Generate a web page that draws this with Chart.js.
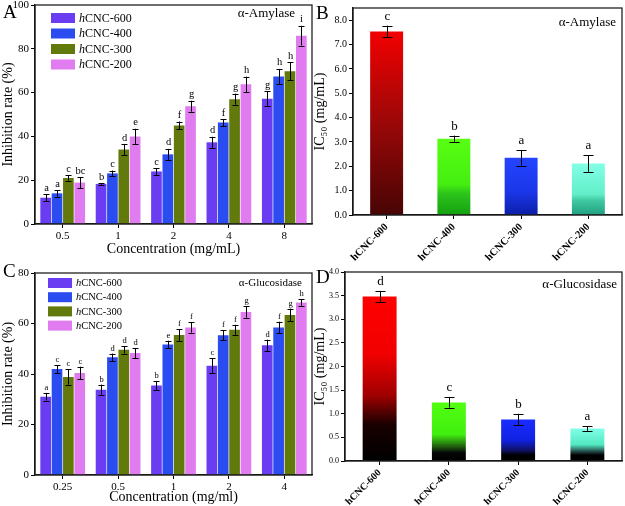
<!DOCTYPE html>
<html>
<head>
<meta charset="utf-8">
<script src="https://cdn.jsdelivr.net/npm/chart.js@4.4.1/dist/chart.umd.min.js"></script>
<style>
  body { margin: 0; background: #fff; }
  #wrap { position: relative; width: 625px; height: 506px; font-family: "Liberation Serif", serif; overflow: hidden; }
  canvas { position: absolute; }
  .lab { position: absolute; font-size: 19px; line-height: 1; color: #000; }
</style>
</head>
<body>
<div id="wrap">
  <canvas id="cC" width="320" height="248" style="left:0;top:258px"></canvas>
  <canvas id="cD" width="313" height="248" style="left:312px;top:258px"></canvas>
  <canvas id="cA" width="320" height="264" style="left:0;top:-6px"></canvas>
  <canvas id="cB" width="313" height="270" style="left:312px;top:0"></canvas>
  <div class="lab" style="left:3px;top:2px">A</div>
  <div class="lab" style="left:316px;top:3px">B</div>
  <div class="lab" style="left:3px;top:261px">C</div>
  <div class="lab" style="left:316px;top:267px">D</div>
</div>
<script>
// ---- data ----
const samples = ['hCNC-600', 'hCNC-400', 'hCNC-300', 'hCNC-200'];

// A: alpha-amylase inhibition (%)
const amyConc = ['0.5', '1', '2', '4', '8'];
const amy600 = [12.0, 18.3, 24.0, 37.3, 57.2];
const amy400 = [14.0, 23.1, 31.8, 46.3, 67.3];
const amy300 = [21.0, 34.0, 45.0, 57.0, 69.8];
const amy200 = [18.9, 40.0, 53.8, 63.8, 86.0];
const amyErr600 = [1.5, 0.4, 1.5, 2.5, 3.5];
const amyErr400 = [1.5, 1.3, 2.5, 1.6, 3.5];
const amyErr300 = [1.2, 2.5, 1.8, 2.5, 4.0];
const amyErr200 = [2.5, 3.5, 2.5, 3.5, 4.5];
const amySig600 = ['a', 'b', 'c', 'd', 'g'];
const amySig400 = ['a', 'c', 'd', 'f', 'h'];
const amySig300 = ['c', 'd', 'f', 'g', 'h'];
const amySig200 = ['bc', 'e', 'g', 'h', 'i'];

// B: alpha-amylase IC50 (mg/mL)
const amyIC50 = [7.53, 3.13, 2.35, 2.11];
const amyIC50Err = [0.24, 0.13, 0.32, 0.34];
const amyIC50Sig = ['c', 'b', 'a', 'a'];

// C: alpha-glucosidase inhibition (%)
const gluConc = ['0.25', '0.5', '1', '2', '4'];
const glu600 = [31.0, 33.8, 35.4, 43.3, 51.4];
const glu400 = [42.0, 46.6, 51.7, 55.3, 58.4];
const glu300 = [38.8, 49.6, 55.4, 57.5, 63.4];
const glu200 = [40.4, 48.3, 58.4, 64.6, 68.3];
const gluErr600 = [1.5, 2.0, 1.8, 3.0, 2.2];
const gluErr400 = [1.5, 1.5, 1.5, 2.0, 2.3];
const gluErr300 = [3.0, 1.5, 2.3, 2.0, 2.5];
const gluErr200 = [2.5, 2.0, 2.0, 2.3, 1.3];
const gluSig600 = ['a', 'b', 'b', 'c', 'd'];
const gluSig400 = ['c', 'd', 'e', 'f', 'f'];
const gluSig300 = ['c', 'd', 'f', 'f', 'g'];
const gluSig200 = ['c', 'd', 'f', 'g', 'h'];

// D: alpha-glucosidase IC50 (mg/mL)
const gluIC50 = [3.48, 1.24, 0.88, 0.69];
const gluIC50Err = [0.12, 0.11, 0.12, 0.05];
const gluIC50Sig = ['d', 'c', 'b', 'a'];

// ---- styles ----
const FONT = '"Liberation Serif", "Times New Roman", serif';
const barColors = ['#6a3cf2', '#2a4cf0', '#62790c', '#e07cf0'];

const gradB = [
  [[0, '#f20000'], [0.5, '#9a0808'], [1, '#480404']],
  [[0, '#58ff12'], [0.6, '#44ee10'], [0.72, '#2cc41c'], [1, '#14a010']],
  [[0, '#2444ff'], [0.6, '#1a36e8'], [1, '#0c1ea8']],
  [[0, '#82ffe6'], [0.6, '#62eec8'], [0.72, '#40c8a0'], [1, '#20a080']]
];
const gradD = [
  [[0, '#ff0000'], [0.35, '#f00000'], [0.6, '#a00000'], [0.78, '#180000'], [1, '#000000']],
  [[0, '#52ff10'], [0.55, '#40ee10'], [0.75, '#206010'], [0.86, '#050505'], [1, '#000000']],
  [[0, '#1a2cff'], [0.5, '#1022e0'], [0.75, '#101060'], [0.86, '#000000'], [1, '#000000']],
  [[0, '#82ffe8'], [0.5, '#52e8c0'], [0.72, '#204040'], [0.82, '#000000'], [1, '#000000']]
];

// ---- plugins ----
const errBars = {
  id: 'errBars',
  afterDatasetsDraw(chart, args, o) {
    const ctx = chart.ctx, y = chart.scales.y;
    ctx.save();
    ctx.strokeStyle = '#000';
    ctx.lineWidth = 1;
    ctx.fillStyle = '#000';
    ctx.font = o.fontSize + 'px ' + FONT;
    ctx.textAlign = 'center';
    ctx.textBaseline = 'bottom';
    chart.data.datasets.forEach((ds, i) => {
      chart.getDatasetMeta(i).data.forEach((bar, j) => {
        const v = ds.data[j], e = o.err[i][j];
        const yt = y.getPixelForValue(v + e), yb = y.getPixelForValue(v - e);
        const x = Math.round(bar.x) + 0.5;
        ctx.beginPath();
        ctx.moveTo(x, yt); ctx.lineTo(x, yb);
        ctx.moveTo(x - o.cap, Math.round(yt) + 0.5); ctx.lineTo(x + o.cap, Math.round(yt) + 0.5);
        ctx.moveTo(x - o.cap, Math.round(yb) + 0.5); ctx.lineTo(x + o.cap, Math.round(yb) + 0.5);
        ctx.stroke();
        ctx.fillText(o.sig[i][j], x, yt - o.gap);
      });
    });
    ctx.restore();
  }
};

const frame = {
  id: 'frame',
  afterDraw(chart, args, o) {
    const a = chart.chartArea, ctx = chart.ctx;
    ctx.save();
    ctx.strokeStyle = '#222';
    ctx.lineWidth = 1.3;
    ctx.strokeRect(a.left, a.top, a.right - a.left, a.bottom - a.top);
    ctx.fillStyle = '#000';
    ctx.font = o.fontSize + 'px ' + FONT;
    ctx.textAlign = 'right';
    ctx.textBaseline = 'middle';
    ctx.fillText(o.note, a.right - o.dx, a.top + o.dy);
    ctx.restore();
  }
};

const boxLegend = {
  id: 'boxLegend',
  afterDraw(chart, args, o) {
    const ctx = chart.ctx;
    ctx.save();
    ctx.textBaseline = 'middle';
    chart.data.datasets.forEach((ds, i) => {
      const top = o.y + i * o.dy;
      ctx.fillStyle = barColors[i];
      ctx.fillRect(o.x, top, o.w, o.h);
      const ty = top + o.h / 2 + 0.5;
      let tx = o.x + o.w + 4;
      ctx.fillStyle = '#000';
      ctx.font = 'italic ' + o.fontSize + 'px ' + FONT;
      ctx.fillText(ds.label.charAt(0), tx, ty);
      tx += ctx.measureText(ds.label.charAt(0)).width;
      ctx.font = o.fontSize + 'px ' + FONT;
      ctx.fillText(ds.label.slice(1), tx, ty);
    });
    ctx.restore();
  }
};

// ---- builders ----
function axisX(title, tickSize, titleSize, height, rotate, bold) {
  return {
    grid: { display: true, drawOnChartArea: false, offset: false, color: '#000', tickLength: 4, tickWidth: 1 },
    border: { color: '#000', width: 1.3 },
    ticks: {
      color: '#000', padding: 2,
      font: { family: FONT, size: tickSize, weight: bold ? 'bold' : 'normal' },
      minRotation: rotate, maxRotation: rotate, autoSkip: false
    },
    title: { display: !!title, text: title, color: '#000', padding: 0, font: { family: FONT, size: titleSize } },
    afterFit: s => { s.height = height; }
  };
}

function axisY(title, max, step, tickSize, titleSize, width, decimals, lastTick) {
  return {
    min: 0, max: max,
    grid: { display: true, drawOnChartArea: false, color: '#000', tickLength: 4, tickWidth: 1 },
    border: { color: '#000', width: 1.3 },
    ticks: {
      stepSize: step, color: '#000', padding: 2,
      font: { family: FONT, size: tickSize },
      callback: v => v.toFixed(decimals)
    },
    afterBuildTicks: s => { s.ticks = s.ticks.filter(t => t.value <= lastTick + 1e-9); },
    title: { display: true, text: title, color: '#000', padding: 0, font: { family: FONT, size: titleSize } },
    afterFit: s => { s.width = width; }
  };
}

function groupedChart(id, labels, series, errs, sigs, cfg) {
  new Chart(document.getElementById(id), {
    type: 'bar',
    data: {
      labels: labels,
      datasets: series.map((d, i) => ({
        label: samples[i], data: d, backgroundColor: barColors[i],
        borderWidth: 0, barPercentage: 0.94, categoryPercentage: 0.82
      }))
    },
    options: {
      responsive: false, animation: false,
      layout: { padding: cfg.padding },
      plugins: {
        legend: { display: false }, tooltip: { enabled: false },
        errBars: { err: errs, sig: sigs, cap: 3, gap: 1, fontSize: cfg.sigSize },
        frame: { note: cfg.note, dx: cfg.noteDx, dy: cfg.noteDy, fontSize: cfg.noteSize },
        boxLegend: cfg.legend
      },
      scales: {
        x: axisX(cfg.xTitle, cfg.xTick, cfg.xTitleSize, cfg.xHeight, 0, false),
        y: axisY('Inhibition rate (%)', cfg.yMax, cfg.yStep, cfg.yTick, 14, 35, 0, cfg.yMax)
      }
    },
    plugins: [errBars, frame, boxLegend]
  });
}

function gradient(stops) {
  return ctx => {
    const c = ctx.chart, y = c.scales.y;
    if (!c.chartArea || !y || ctx.raw === undefined) return stops[0][1];
    const g = c.ctx.createLinearGradient(0, y.getPixelForValue(ctx.raw), 0, y.getPixelForValue(0));
    stops.forEach(s => g.addColorStop(s[0], s[1]));
    return g;
  };
}

function ic50Chart(id, values, errs, sigs, grads, cfg) {
  new Chart(document.getElementById(id), {
    type: 'bar',
    data: {
      labels: samples,
      datasets: [{
        label: 'IC50', data: values,
        backgroundColor: ctx => gradient(grads[ctx.dataIndex])(ctx),
        borderWidth: 0, barPercentage: 0.49, categoryPercentage: 1
      }]
    },
    options: {
      responsive: false, animation: false,
      layout: { padding: cfg.padding },
      plugins: {
        legend: { display: false }, tooltip: { enabled: false },
        errBars: { err: [errs], sig: [sigs], cap: 5, gap: 3, fontSize: 13 },
        frame: { note: cfg.note, dx: cfg.noteDx, dy: cfg.noteDy, fontSize: 13 }
      },
      scales: {
        x: axisX('', cfg.xTick, 12, cfg.xHeight, 45, true),
        y: axisY('IC\u2085\u2080 (mg/mL)', cfg.yMax, cfg.yStep, cfg.yTick, 14, cfg.yWidth, 1, cfg.yLast)
      }
    },
    plugins: [errBars, frame]
  });
}

// ---- charts ----
groupedChart('cA', amyConc, [amy600, amy400, amy300, amy200],
  [amyErr600, amyErr400, amyErr300, amyErr200],
  [amySig600, amySig400, amySig300, amySig200], {
    padding: { top: 11, right: 8, left: 0, bottom: 0 },
    xTitle: 'Concentration (mg/mL)', xTick: 11, xTitleSize: 14, xHeight: 34,
    yMax: 100, yStep: 20, yTick: 11, sigSize: 10.5,
    note: '\u03b1-Amylase', noteDx: 17, noteDy: 9, noteSize: 13,
    legend: { x: 51, y: 19, w: 24, h: 10, dy: 15.5, fontSize: 12 }
  });

ic50Chart('cB', amyIC50, amyIC50Err, amyIC50Sig, gradB, {
  padding: { top: 5, right: 3, left: 0, bottom: 0 },
  xTick: 10.5, xHeight: 55, yMax: 8.5, yStep: 1, yLast: 8, yTick: 10, yWidth: 41,
  note: '\u03b1-Amylase', noteDx: 6, noteDy: 15
});

groupedChart('cC', gluConc, [glu600, glu400, glu300, glu200],
  [gluErr600, gluErr400, gluErr300, gluErr200],
  [gluSig600, gluSig400, gluSig300, gluSig200], {
    padding: { top: 15, right: 8, left: 0, bottom: 0 },
    xTitle: 'Concentration (mg/ml)', xTick: 11, xTitleSize: 14, xHeight: 31,
    yMax: 80, yStep: 20, yTick: 11, sigSize: 8.5,
    note: '\u03b1-Glucosidase', noteDx: 10, noteDy: 10, noteSize: 11,
    legend: { x: 48, y: 20, w: 24, h: 10, dy: 14.2, fontSize: 10.5 }
  });

ic50Chart('cD', gluIC50, gluIC50Err, gluIC50Sig, gradD, {
  padding: { top: 14, right: 3, left: 0, bottom: 0 },
  xTick: 10, xHeight: 45, yMax: 4, yStep: 0.5, yLast: 4, yTick: 8, yWidth: 33,
  note: '\u03b1-Glucosidase', noteDx: 5, noteDy: 13
});
</script>
</body>
</html>
